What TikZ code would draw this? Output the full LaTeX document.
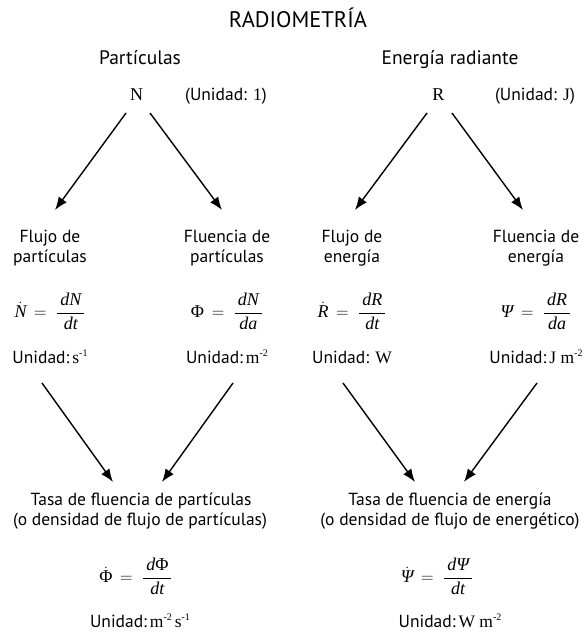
\documentclass[tikz,border=0pt]{standalone}
\usepackage{fontspec}
\setmainfont{PT Sans}
\newfontfamily\tms{Liberation Serif}
\usetikzlibrary{arrows.meta}
\newcommand\tv[1]{\mbox{\tms\itshape #1}}
\newcommand\tu[1]{\mbox{\tms #1}}
\newcommand\supx[1]{\raisebox{0.8ex}{\fontsize{10}{10}\selectfont #1}}
\tikzset{
  txt/.style={inner sep=0pt, anchor=base, font=\fontsize{17.5}{20}\selectfont},
  ttl/.style={inner sep=0pt, anchor=base, font=\fontsize{22.5}{25}\selectfont},
  hdr/.style={inner sep=0pt, anchor=base, font=\fontsize{19.5}{22}\selectfont},
  sym/.style={inner sep=0pt, anchor=base, font=\fontsize{18}{21}\selectfont\tms},
  eq/.style={inner sep=0pt, anchor=base, font=\fontsize{18}{21}\selectfont},
  arr/.style={line width=1.4pt, -{Latex[length=13pt,width=10pt]}}
}
\begin{document}
\begin{tikzpicture}[x=1pt,y=-1pt]
\useasboundingbox (0,0) rectangle (587,633);
% headers
\node[ttl] (title) at (298,27) {RADIOMETRÍA};
\node[hdr] (hp) at (140,64) {Partículas};
\node[hdr] (he) at (450,64) {Energía radiante};
\node[sym] (N) at (136.5,100) {N};
\node[txt] (uN) at (226,100) {(Unidad: {\tms 1})};
\node[sym] (R) at (438.5,100) {R};
\node[txt] (uR) at (535,100) {(Unidad: {\tms J})};
% level 2 labels
\node[txt] (fp1) at (50,242) {Flujo de};
\node[txt] (fp2) at (50,262) {partículas};
\node[txt] (lp1) at (227,242) {Fluencia de};
\node[txt] (lp2) at (227,262) {partículas};
\node[txt] (fe1) at (352,242) {Flujo de};
\node[txt] (fe2) at (352,262) {energía};
\node[txt] (le1) at (536,242) {Fluencia de};
\node[txt] (le2) at (536,262) {energía};
% equations level 2
\node[eq] (efp) at (50,317.5) {$\displaystyle \dot{\tv{N}} \,=\; \frac{\,\tv{dN}\,}{\tv{dt}}$};
\node[eq] (elp) at (227,317.5) {$\displaystyle \tu{Φ} \,=\; \frac{\,\tv{dN}\,}{\tv{da}}$};
\node[eq] (efe) at (352,317.5) {$\displaystyle \dot{\tv{R}} \,=\; \frac{\,\tv{dR}\,}{\tv{dt}}$};
\node[eq] (ele) at (536,317.5) {$\displaystyle \tv{Ψ} \,=\; \frac{\,\tv{dR}\,}{\tv{da}}$};
% units level 2
\node[txt] (ufp) at (50,363) {Unidad:\,\tu{s}\supx{\tms -1}};
\node[txt] (ulp) at (227,363) {Unidad:\,\tu{m}\supx{\tms -2}};
\node[txt] (ufe) at (352,363) {Unidad: \tu{W}};
\node[txt] (ule) at (536,363) {Unidad:\,\tu{J m}\supx{\tms -2}};
% bottom
\node[txt] (tp1) at (141,505) {Tasa de fluencia de partículas};
\node[txt] (tp2) at (140,525) {(o densidad de flujo de partículas)};
\node[txt] (te1) at (450,505) {Tasa de fluencia de energía};
\node[txt] (te2) at (450,525) {(o densidad de flujo de energético)};
\node[eq] (etp) at (136,582.5) {$\displaystyle \dot{\tu{Φ}} \,=\; \frac{\,\tv{d}\tu{Φ}\,}{\tv{dt}}$};
\node[eq] (ete) at (437,582.5) {$\displaystyle \dot{\tv{Ψ}} \,=\; \frac{\,\tv{dΨ}\,}{\tv{dt}}$};
\node[txt] (utp) at (140,627) {Unidad:\,\tu{m}\supx{\tms -2}\,\tu{s}\supx{\tms -1}};
\node[txt] (ute) at (450,627) {Unidad:\,\tu{W m}\supx{\tms -2}};
% arrows top
\draw[arr] ([shift={(-10.5,13)}]N.base) -- ([shift={(5,-32)}]fp1.base);
\draw[arr] ([shift={(13.5,13)}]N.base) -- ([shift={(-5,-32)}]lp1.base);
\draw[arr] ([shift={(-11.5,13)}]R.base) -- ([shift={(3,-32)}]fe1.base);
\draw[arr] ([shift={(13.5,13)}]R.base) -- ([shift={(-13,-32)}]le1.base);
% arrows bottom
\draw[arr] ([shift={(-8,20)}]ufp.base) -- ([shift={(-28,-23)}]tp1.base);
\draw[arr] ([shift={(6,20)}]ulp.base) -- ([shift={(21,-23)}]tp1.base);
\draw[arr] ([shift={(-9,20)}]ufe.base) -- ([shift={(-35,-23)}]te1.base);
\draw[arr] ([shift={(1,20)}]ule.base) -- ([shift={(14,-23)}]te1.base);
\end{tikzpicture}
\end{document}
